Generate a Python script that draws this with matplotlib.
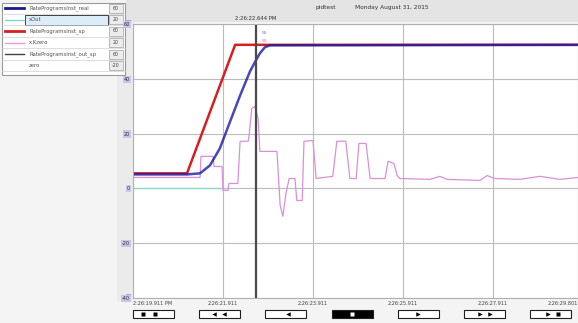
import numpy as np
import matplotlib.pyplot as plt
from matplotlib.patches import Rectangle
from matplotlib.transforms import blended_transform_factory

# trend data (seconds from window start, engineering units)
sp_t = [0.0, 1.20, 2.27, 9.89]
sp_v = [5.5, 5.5, 52.4, 52.4]

pv_t = [0.0, 1.20, 1.49, 1.71, 1.93, 2.16, 2.38, 2.60, 2.73, 2.82, 2.93, 3.04, 9.89]
pv_v = [5.1, 5.1, 5.5, 8.4, 14.6, 24.5, 33.9, 42.7, 46.7, 49.3, 51.5, 52.2, 52.4]

out_t = [0.00, 1.49, 1.51, 1.78, 1.80, 1.98, 2.00, 2.11, 2.13, 2.33, 2.38, 2.56, 2.58,
         2.64, 2.71, 2.78, 2.82, 3.20, 3.27, 3.33, 3.40, 3.47, 3.60, 3.64, 3.76, 3.80,
         4.00, 4.07, 4.44, 4.53, 4.73, 4.82, 4.96, 5.02, 5.18, 5.27, 5.60, 5.67, 5.80,
         5.87, 5.93, 6.60, 6.82, 6.98, 7.71, 7.87, 8.04, 8.60, 9.04, 9.49, 9.89]
out_v = [4.0, 4.0, 11.7, 11.7, 8.0, 8.0, -0.7, -0.7, 1.8, 1.8, 17.2, 17.2, 19.3,
         29.2, 29.9, 25.5, 13.5, 13.5, -6.2, -10.2, -1.8, 3.6, 3.6, -4.4, -4.4, 17.2,
         17.5, 3.6, 4.4, 17.2, 17.2, 3.6, 3.6, 16.4, 16.4, 3.6, 3.6, 9.9, 9.1,
         4.7, 3.6, 3.3, 4.4, 3.3, 2.9, 4.7, 3.6, 3.3, 4.4, 3.3, 4.0]

kzero_t = [0.0, 2.0]
kzero_v = [0.0, 0.0]

start_sec = 19.911
cursor_t = 2.733
x_ticks = [0, 2, 4, 6, 8, 9.89]
y_ticks = [-40, -20, 0, 20, 40, 60]

legend_names = ["RateProgramsInst_real", "xOut", "RateProgramsInst_sp",
                "x.Kzero", "RateProgramsInst_out_sp", "zero"]
legend_vals = ["60", "20", "60", "20", "60", "-20"]
legend_cols = ["#1a1a8c", "#7fd6c8", "#d42020", "#e0a0e0", "#404040", None]

W, H = 578, 323
fig = plt.figure(figsize=(W / 100, H / 100), dpi=100, facecolor='#f4f4f4')

# window chrome drawn in pixel units
ui = fig.add_axes([0, 0, 1, 1], zorder=0)
ui.set_xlim(0, W)
ui.set_ylim(H, 0)
ui.axis('off')
ui.add_patch(Rectangle((126, 0), W - 126, 22, fc='#e4e4e4', ec='none'))
ui.add_patch(Rectangle((117, 22), 16, 280, fc='#ebebeb', ec='none'))
ui.text(315, 8, "pidtest", fontsize=4.2, color='#333333', va='center')
ui.text(355, 8, "Monday August 31, 2015", fontsize=4.2, color='#333333', va='center')

# legend list
ui.add_patch(Rectangle((2, 3), 123, 72, fc='white', ec='#9a9a9a', lw=0.8))
for i, (name, val, col) in enumerate(zip(legend_names, legend_vals, legend_cols)):
    yc = 8 + i * 11.5
    if i == 1:
        ui.add_patch(Rectangle((25, yc - 5), 83, 10, fc='#dcecf8', ec='#404040', lw=0.7))
    if col is not None:
        ui.plot([5, 24], [yc, yc], color=col, lw=2 if i in (0, 2) else 1)
    ui.plot([2, 125], [yc + 5.7, yc + 5.7], color='#d0d0d0', lw=0.5)
    ui.text(29, yc, name, fontsize=3.8, color='#505050', va='center')
    ui.add_patch(Rectangle((109, yc - 4.5), 14, 9, fc='#ececec', ec='#a0a0a0', lw=0.5))
    ui.text(116, yc, val, fontsize=3.4, color='#404040', va='center', ha='center')
ui.add_patch(Rectangle((126, 20), 5, 5, fc='#a8a8d8', ec='none'))
ui.add_patch(Rectangle((126, 294), 5, 5, fc='#a8a8d8', ec='none'))

# scroll buttons under the time axis
btn_x = [133, 199, 265, 332, 398, 464, 530]
btn_marks = [[(143, 's'), (155, 's')], [(214, '<'), (224, '<')], [(288, '<')],
             [(352, 's')], [(418, '>')], [(480, '>'), (490, '>')], [(548, '>'), (558, 's')]]
for bx, marks in zip(btn_x, btn_marks):
    dark = bx == 332
    ui.add_patch(Rectangle((bx, 310), 41, 8, fc='black' if dark else 'white',
                           ec='#202020', lw=0.8))
    for mx, m in marks:
        ui.plot(mx, 314, marker=m, ms=3.2, color='white' if dark else 'black', mec='none')

# trend pane
ax = fig.add_axes([133 / W, (H - 298) / H, 445 / W, 274 / H], zorder=1)
ax.set_facecolor('white')
ax.set_xlim(0, 9.89)
ax.set_ylim(-40, 60)
ax.set_xticks(x_ticks)
ax.set_xticklabels(["2:26:%06.3f" % (start_sec + t) + (" PM" if t == 0 else "")
                    for t in x_ticks], fontsize=3.6, color='#404040')
labs = ax.get_xticklabels()
labs[0].set_ha('left')
labs[-1].set_ha('right')
ax.set_yticks(y_ticks)
ax.set_yticklabels([str(v) for v in y_ticks], fontsize=3.6, color='#303040')
for lbl in ax.get_yticklabels():
    lbl.set_bbox(dict(fc='#c6c6e6', ec='none', pad=0.8))
ax.tick_params(length=0, pad=2)
ax.grid(color='#bcbcbc', lw=0.8)
for s in ax.spines.values():
    s.set_color('#b0b0b0')
    s.set_linewidth(0.8)

ax.plot(kzero_t, kzero_v, color='#8fd8c8', lw=1)
ax.plot(out_t, out_v, color='#d890d8', lw=0.9)
ax.plot(sp_t, sp_v, color='#d42020', lw=1.8)
ax.plot(pv_t, pv_v, color='#1a1aa8', lw=1.8, alpha=0.8)

ax.axvline(cursor_t, color='#4a4a4a', lw=1.6)
trans = blended_transform_factory(ax.transData, ax.transAxes)
ax.text(cursor_t, 1.01, "2:26:%06.3f PM" % (start_sec + cursor_t), transform=trans,
        fontsize=3.8, ha='center', va='bottom', color='#303030', clip_on=False)
ax.text(cursor_t + 0.12, 56.5, "55", fontsize=3.2, color='#7070c0')
ax.text(cursor_t + 0.12, 53.5, "50", fontsize=3.2, color='#c070a0')

fig.savefig("out.png", dpi=100, facecolor=fig.get_facecolor())
